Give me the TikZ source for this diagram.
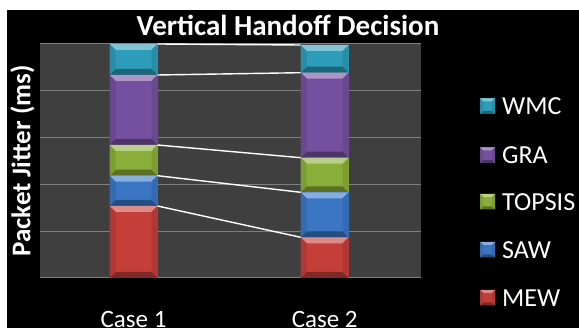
\documentclass[tikz,border=0pt]{standalone}
\usepackage{fontspec}
\setmainfont{Carlito}
\definecolor{plotbg}{HTML}{3F3F3F}
\definecolor{gridc}{HTML}{7F7F7F}
\definecolor{cwmc}{HTML}{2E9CBB}
\definecolor{cgra}{HTML}{7650A0}
\definecolor{ctop}{HTML}{8AAE3A}
\definecolor{csaw}{HTML}{3A76C4}
\definecolor{cmew}{HTML}{C43E3A}
\tikzset{
  seg/.style={rectangle, inner sep=0pt, outer sep=0pt, draw=none},
  gridline/.style={draw=gridc, line width=1pt},
  series/.style={draw=white, line width=1.4pt},
  ltext/.style={text=white, anchor=west, inner sep=0pt, font=\fontsize{26}{30}\selectfont},
  caselbl/.style={text=white, anchor=base, inner sep=0pt, font=\fontsize{25}{30}\selectfont},
}
% name, xleft, ytop, ybot, colour, width, bevel
\newcommand{\bseg}[7]{%
  \node[seg, fill=#5, minimum width=#6pt, minimum height={(#4-#3)*1pt}, anchor=north west] (#1) at (#2,#3) {};
  \fill[#5!60!white] (#1.north west) -- (#1.north east) -- ([shift={(-#7,#7)}]#1.north east) -- ([shift={(#7,#7)}]#1.north west) -- cycle;
  \fill[#5!65!black] (#1.south west) -- (#1.south east) -- ([shift={(-#7,-#7)}]#1.south east) -- ([shift={(#7,-#7)}]#1.south west) -- cycle;
  \fill[#5!90!black] (#1.north west) -- ([shift={(#7,#7)}]#1.north west) -- ([shift={(#7,-#7)}]#1.south west) -- (#1.south west) -- cycle;
  \fill[#5!90!black] (#1.north east) -- ([shift={(-#7,#7)}]#1.north east) -- ([shift={(-#7,-#7)}]#1.south east) -- (#1.south east) -- cycle;
}
\begin{document}
\begin{tikzpicture}[x=1pt,y=-1pt]
\useasboundingbox (0,0) rectangle (579,328);
\fill[white] (0,0) rectangle (579,328);
\fill[black] (7,10) rectangle (579,328);
\fill[plotbg] (39.5,44) rectangle (421,278);
\foreach \y in {44,90.8,137.6,184.4,231.2,278} \draw[gridline] (39.5,\y) -- (421,\y);
% Case 1
\bseg{awmc}{109.5}{44}{75}{cwmc}{48}{6}
\bseg{agra}{109.5}{75}{145}{cgra}{48}{6}
\bseg{atop}{109.5}{145}{175.7}{ctop}{48}{6}
\bseg{asaw}{109.5}{175.7}{206}{csaw}{48}{6}
\bseg{amew}{109.5}{206}{278}{cmew}{48}{6}
% Case 2
\bseg{bwmc}{300.7}{45}{72.7}{cwmc}{48}{6}
\bseg{bgra}{300.7}{72.7}{157.7}{cgra}{48}{6}
\bseg{btop}{300.7}{157.7}{192.3}{ctop}{48}{6}
\bseg{bsaw}{300.7}{192.3}{237.3}{csaw}{48}{6}
\bseg{bmew}{300.7}{237.3}{278}{cmew}{48}{6}
% series lines
\draw[series] (awmc.north east) -- (bwmc.north west);
\draw[series] (agra.north east) -- (bgra.north west);
\draw[series] (atop.north east) -- (btop.north west);
\draw[series] (asaw.north east) -- (bsaw.north west);
\draw[series] (amew.north east) -- (bmew.north west);
% title and axis labels
\node[text=white, font=\bfseries\fontsize{29}{34}\selectfont, inner sep=0pt] (title) at (288,25) {Vertical Handoff Decision};
\node[text=white, font=\bfseries\fontsize{27}{32}\selectfont, rotate=90, inner sep=0pt] (ylab) at (22.5,161) {Packet Jitter (ms)};
\node[caselbl] (case1) at (133.5,328) {Case 1};
\node[caselbl] (case2) at (324.7,328) {Case 2};
% legend
\bseg{lwmc}{480}{98.5}{114}{cwmc}{15}{3}
\bseg{lgra}{480}{147.5}{163}{cgra}{15}{3}
\bseg{ltop}{480}{194}{209.5}{ctop}{15}{3}
\bseg{lsaw}{480}{242}{257.5}{csaw}{15}{3}
\bseg{lmew}{480}{290}{305.5}{cmew}{15}{3}
\node[ltext] (twmc) at ([xshift=7pt]lwmc.east) {WMC};
\node[ltext] (tgra) at ([xshift=7pt]lgra.east) {GRA};
\node[ltext] (ttop) at ([xshift=7pt]ltop.east) {TOPSIS};
\node[ltext] (tsaw) at ([xshift=7pt]lsaw.east) {SAW};
\node[ltext] (tmew) at ([xshift=7pt]lmew.east) {MEW};
\end{tikzpicture}
\end{document}
